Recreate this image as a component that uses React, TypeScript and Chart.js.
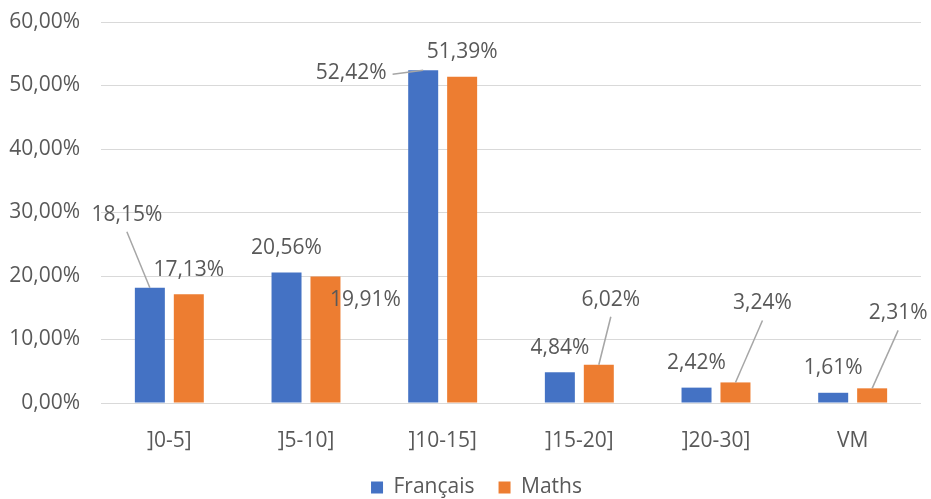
import React, { useEffect, useRef } from "react";
import { Chart, registerables } from "chart.js";

Chart.register(...registerables);

const categories = ["]0-5]", "]5-10]", "]10-15]", "]15-20]", "]20-30]", "VM"];
const francaisValues = [18.15, 20.56, 52.42, 4.84, 2.42, 1.61];
const mathsValues = [17.13, 19.91, 51.39, 6.02, 3.24, 2.31];
const yTickMax = 60;
const yTickStep = 10;

// label placement (pixel offsets from bar top centre) and leader flags
const francaisLabelOffsets = [[-23, -73], [0, -24], [-72, 3], [0, -24], [0, -25], [0, -25]];
const mathsLabelOffsets = [[0, -24], [40, 23], [0, -25], [12, -65], [27, -79], [26, -75]];
const francaisLeaders = [true, false, true, false, false, false];
const mathsLeaders = [false, false, false, true, true, true];

const FONT = "'Open Sans', 'Noto Sans', sans-serif";
const TEXT = "#595959";
const FS = 21;
const LEGEND_SHIFT = 16;

const fmt = (v: number) => v.toFixed(2).replace(".", ",") + "%";

const legendShiftPlugin = {
  id: "legendShift",
  afterLayout(chart: any) {
    const lg = chart.legend;
    if (lg) {
      lg.left += LEGEND_SHIFT;
      lg.right += LEGEND_SHIFT;
    }
  },
};

const labelPlugin = {
  id: "excelLabels",
  afterDatasetsDraw(chart: any) {
    const ctx = chart.ctx;
    const offsets = [francaisLabelOffsets, mathsLabelOffsets];
    const leaders = [francaisLeaders, mathsLeaders];
    ctx.save();
    ctx.font = `${FS}px ${FONT}`;
    ctx.fillStyle = TEXT;
    ctx.textAlign = "center";
    ctx.textBaseline = "middle";
    chart.data.datasets.forEach((ds: any, di: number) => {
      const meta = chart.getDatasetMeta(di);
      meta.data.forEach((el: any, i: number) => {
        const [dx, dy] = offsets[di][i];
        const lx = el.x + dx;
        const ly = el.y + dy;
        const text = fmt(ds.data[i]);
        if (leaders[di][i]) {
          const w = ctx.measureText(text).width;
          let sx: number, sy: number;
          if (Math.abs(dx) > Math.abs(dy)) {
            sx = lx + (dx < 0 ? w / 2 + 6 : -w / 2 - 6);
            sy = ly + 1;
          } else {
            sx = lx;
            sy = ly + 17;
          }
          ctx.beginPath();
          ctx.strokeStyle = "#a6a6a6";
          ctx.lineWidth = 1.5;
          ctx.moveTo(sx, sy);
          ctx.lineTo(el.x, el.y);
          ctx.stroke();
        }
        ctx.fillText(text, lx, ly);
      });
    });
    ctx.restore();
  },
};

export default function App() {
  const ref = useRef<HTMLCanvasElement>(null);
  useEffect(() => {
    if (!ref.current) return;
    const chart = new Chart(ref.current, {
      type: "bar",
      data: {
        labels: categories,
        datasets: [
          {
            label: "Français",
            data: francaisValues,
            backgroundColor: "#4472C4",
            categoryPercentage: 0.57,
            barPercentage: 0.77,
          },
          {
            label: "Maths",
            data: mathsValues,
            backgroundColor: "#ED7D31",
            categoryPercentage: 0.57,
            barPercentage: 0.77,
          },
        ],
      },
      options: {
        animation: false,
        responsive: true,
        maintainAspectRatio: false,
        layout: { padding: { top: 22, right: 10, left: 0, bottom: -9 } },
        plugins: {
          legend: {
            position: "bottom",
            labels: {
              boxWidth: 12,
              boxHeight: 12,
              padding: 24,
              color: TEXT,
              font: { family: FONT, size: FS },
            },
          },
          tooltip: { enabled: false },
        },
        scales: {
          x: {
            grid: { display: false },
            border: { display: false },
            ticks: { color: TEXT, font: { family: FONT, size: FS }, padding: 17 },
            afterFit: (s: any) => {
              s.height = 50;
            },
          },
          y: {
            min: 0,
            max: yTickMax,
            grid: { color: "#d9d9d9", lineWidth: 1, drawTicks: false },
            border: { display: false },
            ticks: {
              stepSize: yTickStep,
              color: TEXT,
              font: { family: FONT, size: FS },
              padding: 21,
              callback: (v: any) => fmt(Number(v)),
            },
            afterFit: (s: any) => {
              s.width = 101;
              s.paddingTop = 0;
              s.paddingBottom = 0;
            },
          },
        },
      },
      plugins: [labelPlugin, legendShiftPlugin],
    });
    return () => chart.destroy();
  }, []);
  return (
    <div style={{ position: "absolute", left: 0, top: 0, width: 931, height: 499, background: "#fff" }}>
      <canvas ref={ref} />
    </div>
  );
}
